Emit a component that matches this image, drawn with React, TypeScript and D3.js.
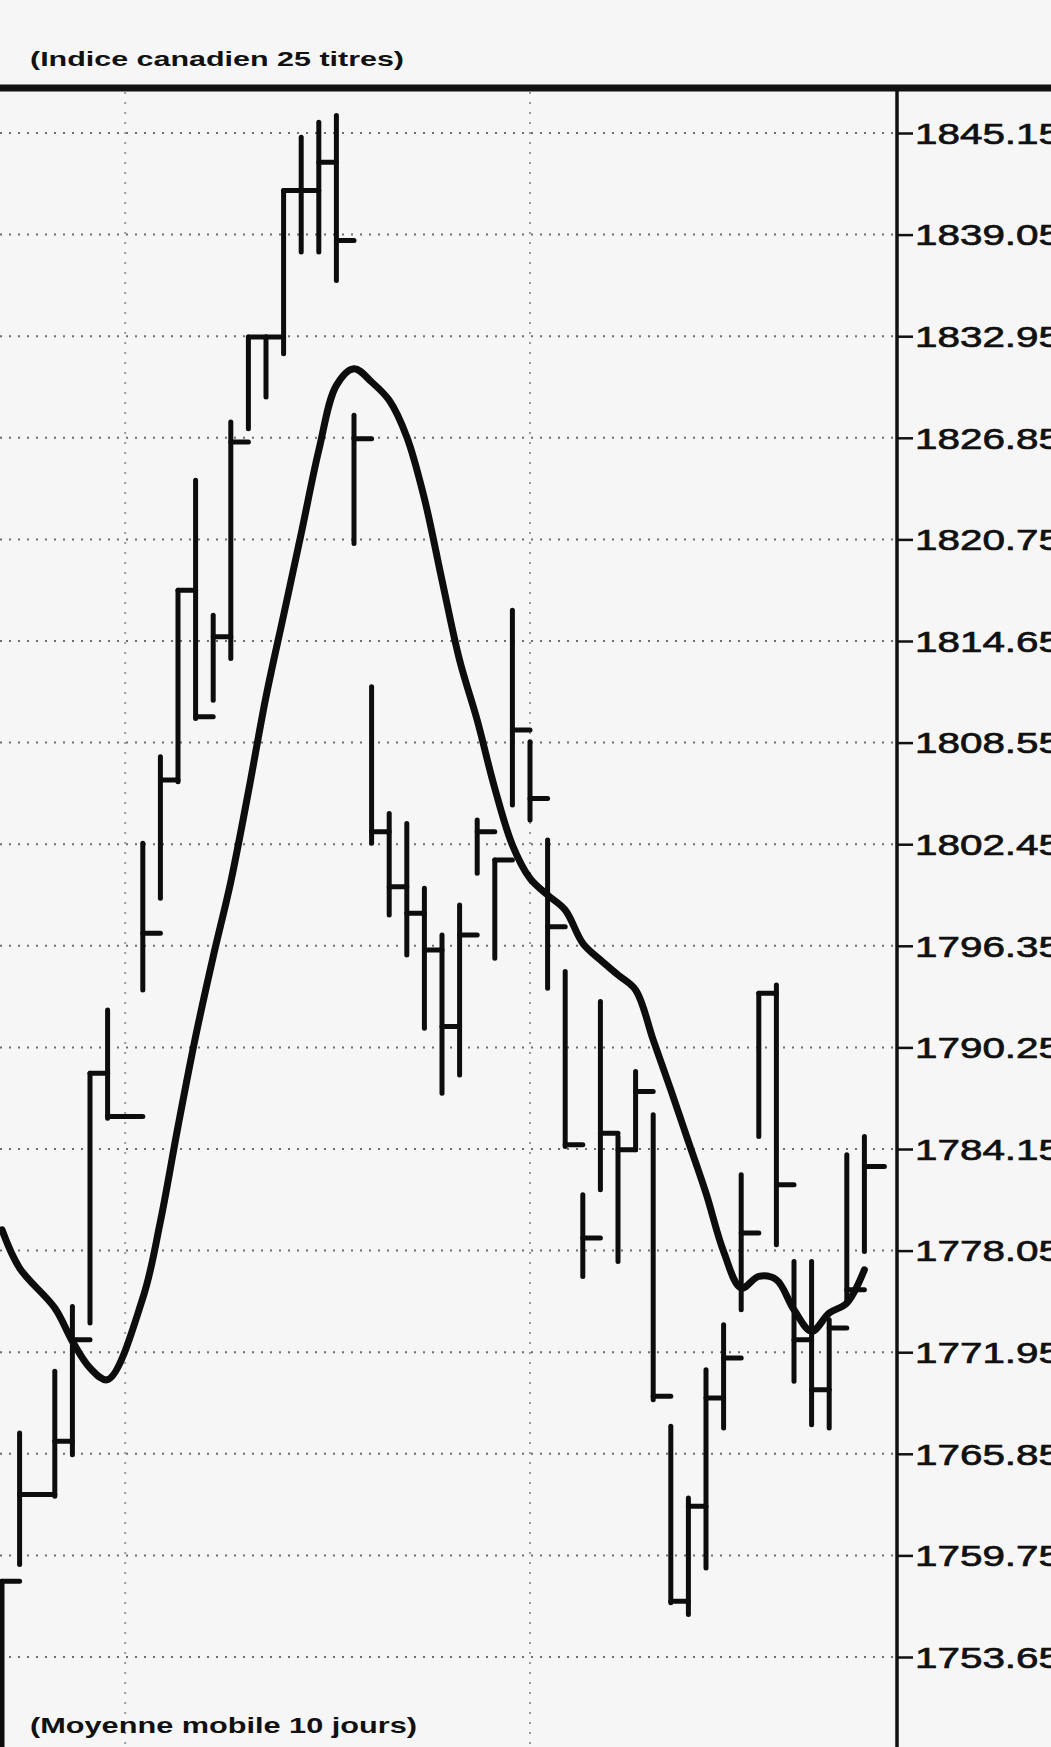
import React, { useEffect, useRef } from 'react';
import * as d3 from 'd3';

// trading-day slots (2 and 7 are holidays, no bar)
const dayIndex = [0, 1, 3, 4, 5, 6, 8, 9, 10, 11, 12, 13, 14, 15, 16, 17, 18, 19, 20, 21, 22, 23, 24, 25, 26, 27, 28, 29,
  30, 31, 32, 33, 34, 35, 36, 37, 38, 39, 40, 41, 42, 43, 44, 45, 46, 47, 48, 49];

const highs = [1758.2, 1767.1, 1770.8, 1774.7, 1788.7, 1792.5, 1802.5, 1807.7, 1817.7, 1824.3, 1816.2, 1827.8,
  1832.9, 1832.9, 1841.7, 1844.9, 1845.8, 1846.2, 1828.2, 1811.9, 1804.3, 1803.7, 1799.8, 1797.0, 1798.8, 1803.9,
  1801.5, 1816.5, 1808.6, 1802.7, 1794.8, 1781.4, 1793.0, 1784.9, 1788.8, 1786.2, 1767.5, 1763.2, 1770.9, 1773.6,
  1782.6, 1793.5, 1794.0, 1777.4, 1777.4, 1773.9, 1783.8, 1784.9];

const lows = [1746.5, 1759.2, 1763.3, 1765.8, 1773.7, 1786.0, 1793.7, 1799.2, 1806.2, 1810.0, 1811.1, 1813.6,
  1827.4, 1829.3, 1831.9, 1838.0, 1838.0, 1836.3, 1820.5, 1802.5, 1798.2, 1795.8, 1791.4, 1787.5, 1788.6, 1800.7,
  1795.6, 1804.8, 1803.9, 1793.8, 1784.3, 1776.5, 1781.7, 1777.4, 1784.1, 1769.1, 1756.9, 1756.2, 1759.0, 1767.4,
  1774.5, 1784.9, 1778.4, 1770.2, 1767.6, 1767.4, 1775.1, 1778.0];

const closes = [1758.2, 1763.4, 1766.6, 1772.7, 1788.7, 1786.1, 1797.1, 1806.3, 1817.7, 1810.1, 1814.9, 1826.6,
  1832.9, 1832.9, 1841.7, 1841.7, 1843.4, 1838.7, 1826.8, 1803.2, 1799.9, 1798.3, 1796.1, 1791.5, 1797.0, 1803.2,
  1801.5, 1809.3, 1805.2, 1797.5, 1784.4, 1778.8, 1785.1, 1784.1, 1787.6, 1769.3, 1757.0, 1762.7, 1769.2, 1771.6,
  1779.1, 1793.5, 1782.0, 1772.7, 1769.7, 1773.4, 1775.7, 1783.1];

// moyenne mobile 10 jours
const movingAvg = [1779.3, 1777.0, 1774.6, 1772.6, 1771.0, 1770.3, 1775.2, 1779.8, 1785.5, 1790.9, 1795.7, 1800.2,
  1805.6, 1811.3, 1816.2, 1821.1, 1826.1, 1830.0, 1831.0, 1830.2, 1829.1, 1826.9, 1823.2, 1818.3, 1813.5, 1809.9,
  1805.8, 1802.4, 1800.4, 1799.4, 1798.5, 1796.5, 1795.5, 1794.6, 1793.7, 1790.7, 1787.7, 1784.6, 1781.5, 1778.0,
  1775.8, 1776.5, 1776.3, 1774.5, 1773.2, 1774.3, 1774.9, 1776.9];

const priceTicks = ['1845.15', '1839.05', '1832.95', '1826.85', '1820.75', '1814.65', '1808.55', '1802.45',
  '1796.35', '1790.25', '1784.15', '1778.05', '1771.95', '1765.85', '1759.75', '1753.65'];

// dotted vertical lines (month breaks)
const monthLines = [7, 30];

const App = () => {
  const svgRef = useRef<SVGSVGElement>(null);

  useEffect(() => {
    const width = 1051;
    const height = 1747;
    const axisX = 897;
    const topLine = 88;

    const svg = d3.select(svgRef.current);
    svg.selectAll('*').remove();
    svg.attr('width', width).attr('height', height);

    const xScale = d3.scaleLinear().domain([0, 49]).range([2, 864.4]);
    const yScale = d3.scaleLinear().domain([1845.15, 1753.65]).range([133, 1657]);

    // paper
    svg.append('rect')
      .attr('width', width)
      .attr('height', height)
      .attr('fill', '#f6f6f6');

    // horizontal dotted grid
    svg.append('g')
      .selectAll('line')
      .data(priceTicks)
      .join('line')
      .attr('x1', 0)
      .attr('x2', axisX)
      .attr('y1', d => yScale(+d))
      .attr('y2', d => yScale(+d))
      .attr('stroke', '#6e6e6e')
      .attr('stroke-width', 2)
      .attr('stroke-dasharray', '2 7');

    // vertical dotted grid
    svg.append('g')
      .selectAll('line')
      .data(monthLines)
      .join('line')
      .attr('x1', d => xScale(d))
      .attr('x2', d => xScale(d))
      .attr('y1', topLine + 4)
      .attr('y2', height)
      .attr('stroke', '#9a9a9a')
      .attr('stroke-width', 2)
      .attr('stroke-dasharray', '2 8');

    // bars (high-low with close tick running to the next bar)
    const bars = svg.append('g')
      .attr('stroke', '#0d0d0d')
      .attr('stroke-width', 5)
      .attr('stroke-linecap', 'round');

    dayIndex.forEach((d, i) => {
      const x = xScale(d);
      const nextX = i < dayIndex.length - 1 ? xScale(dayIndex[i + 1]) : x + 20;
      bars.append('line')
        .attr('x1', x).attr('x2', x)
        .attr('y1', yScale(highs[i]))
        .attr('y2', yScale(lows[i]));
      bars.append('line')
        .attr('x1', x).attr('x2', nextX)
        .attr('y1', yScale(closes[i]))
        .attr('y2', yScale(closes[i]));
    });

    // moving average
    const line = d3.line<number>()
      .x((d, i) => xScale(dayIndex[i]))
      .y(d => yScale(d))
      .curve(d3.curveCatmullRom);

    svg.append('path')
      .datum(movingAvg)
      .attr('fill', 'none')
      .attr('stroke', '#0d0d0d')
      .attr('stroke-width', 7)
      .attr('stroke-linejoin', 'round')
      .attr('stroke-linecap', 'round')
      .attr('d', line);

    // right price axis
    const axis = svg.append('g')
      .attr('transform', `translate(${axisX}, 0)`)
      .call(d3.axisRight(yScale)
        .tickValues(priceTicks.map(Number))
        .tickFormat((d, i) => priceTicks[i])
        .tickSize(16)
        .tickPadding(2));
    axis.select('.domain').remove();
    axis.selectAll('.tick line')
      .attr('stroke', '#111')
      .attr('stroke-width', 2.5);
    axis.selectAll('.tick text')
      .attr('fill', '#111')
      .attr('stroke', '#111')
      .attr('stroke-width', 0.7)
      .attr('font-family', '"Liberation Sans", Arial, Helvetica, sans-serif')
      .attr('font-size', 30)
      .attr('dy', '0.34em')
      .attr('textLength', 146)
      .attr('lengthAdjust', 'spacingAndGlyphs');

    svg.append('line')
      .attr('x1', axisX).attr('x2', axisX)
      .attr('y1', topLine).attr('y2', height)
      .attr('stroke', '#111')
      .attr('stroke-width', 3.5);

    // top rule
    svg.append('line')
      .attr('x1', 0).attr('x2', width)
      .attr('y1', topLine).attr('y2', topLine)
      .attr('stroke', '#111')
      .attr('stroke-width', 7);

    // captions
    svg.append('text')
      .attr('x', 30)
      .attr('y', 66)
      .attr('font-family', '"Liberation Sans", Arial, Helvetica, sans-serif')
      .attr('font-size', 21)
      .attr('font-weight', 'bold')
      .attr('fill', '#111')
      .attr('textLength', 374)
      .attr('lengthAdjust', 'spacingAndGlyphs')
      .text('(Indice canadien 25 titres)');

    svg.append('text')
      .attr('x', 30)
      .attr('y', 1733)
      .attr('font-family', '"Liberation Sans", Arial, Helvetica, sans-serif')
      .attr('font-size', 22)
      .attr('font-weight', 'bold')
      .attr('fill', '#111')
      .attr('textLength', 387)
      .attr('lengthAdjust', 'spacingAndGlyphs')
      .text('(Moyenne mobile 10 jours)');
  }, []);

  return (
    <svg ref={svgRef} style={{ position: 'absolute', left: 0, top: 0, display: 'block' }}></svg>
  );
};

export default App;
